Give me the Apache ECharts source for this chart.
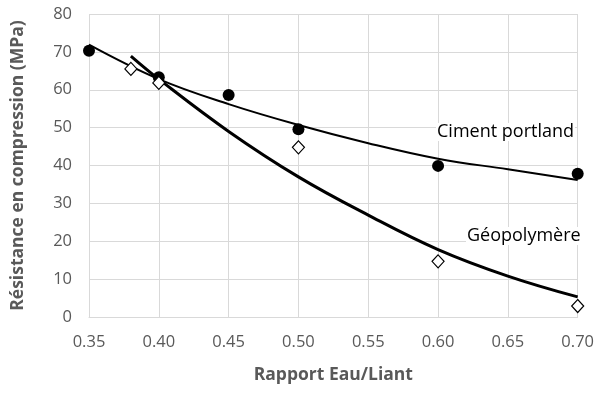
<!DOCTYPE html>
<html><head><meta charset="utf-8">
<script src="https://cdn.jsdelivr.net/npm/echarts@6/dist/echarts.min.js"></script>
<style>html,body{margin:0;padding:0;background:#fff}#c{width:597px;height:396px}</style>
</head><body><div id="c"></div>
<script>
// Measured points
const portlandX = [0.35, 0.40, 0.45, 0.50, 0.60, 0.70];
const portlandY = [70.3, 63.3, 58.6, 49.6, 39.9, 37.8];
const geoX = [0.38, 0.40, 0.50, 0.60, 0.70];
const geoY = [65.5, 61.8, 44.8, 14.7, 2.9];
// Trend curves
const portlandTrendX = [0.35, 0.40, 0.45, 0.50, 0.55, 0.60, 0.65, 0.70];
const portlandTrendY = [71.9, 62.8, 56.2, 50.7, 45.9, 41.8, 39.0, 36.2];
const geoTrendX = [0.38, 0.40, 0.45, 0.50, 0.55, 0.60, 0.65, 0.70];
const geoTrendY = [68.9, 62.8, 49.0, 37.0, 26.9, 17.8, 10.8, 5.3];
const labels = ['Ciment portland', 'Géopolymère'];

const zip = (xs, ys) => xs.map((x, i) => [x, ys[i]]);
const font = '"Open Sans", "Liberation Sans", sans-serif';
const chart = echarts.init(document.getElementById('c'));
chart.setOption({
  animation: false,
  grid: {left: 89, right: 18, top: 14, bottom: 79},
  xAxis: {
    type: 'value', min: 0.35, max: 0.70, interval: 0.05,
    name: 'Rapport Eau/Liant', nameLocation: 'middle', nameGap: 49,
    nameTextStyle: {fontFamily: font, fontWeight: 'bold', fontSize: 17.5, color: '#595959'},
    axisLine: {show: true, lineStyle: {color: '#d9d9d9', width: 1}},
    axisTick: {show: false},
    axisLabel: {fontFamily: font, fontSize: 16.5, color: '#595959', margin: 17,
      formatter: v => v.toFixed(2)},
    splitLine: {show: true, lineStyle: {color: '#d9d9d9', width: 1}}
  },
  yAxis: {
    type: 'value', min: 0, max: 80, interval: 10,
    name: 'Résistance en compression (MPa)', nameLocation: 'middle', nameGap: 62,
    nameTextStyle: {fontFamily: font, fontWeight: 'bold', fontSize: 17.5, color: '#595959'},
    axisLine: {show: false}, axisTick: {show: false},
    axisLabel: {fontFamily: font, fontSize: 16.5, color: '#595959', margin: 17},
    splitLine: {show: true, lineStyle: {color: '#d9d9d9', width: 1}}
  },
  series: [
    {type: 'line', data: zip(portlandTrendX, portlandTrendY), smooth: 0.4, symbol: 'none',
     lineStyle: {color: '#000', width: 2}, z: 2},
    {type: 'line', data: zip(geoTrendX, geoTrendY), smooth: 0.4, symbol: 'none',
     lineStyle: {color: '#000', width: 3}, z: 2},
    {type: 'scatter', data: zip(portlandX, portlandY), symbol: 'circle', symbolSize: 12,
     itemStyle: {color: '#000', opacity: 1}, z: 3},
    {type: 'scatter', data: zip(geoX, geoY), symbol: 'diamond', symbolSize: [12, 13],
     itemStyle: {color: '#fff', borderColor: '#000', borderWidth: 1.2, opacity: 1}, z: 3}
  ],
  graphic: [
    {type: 'text', x: 436, y: 132, z: 1, style: {text: labels[0], fontFamily: font, fontSize: 18, fill: '#000',
      verticalAlign: 'middle', backgroundColor: '#fff', padding: [0, 1]}},
    {type: 'text', x: 466, y: 236, z: 1, style: {text: labels[1], fontFamily: font, fontSize: 18, fill: '#000',
      verticalAlign: 'middle', backgroundColor: '#fff', padding: [0, 1]}}
  ]
});
</script></body></html>
